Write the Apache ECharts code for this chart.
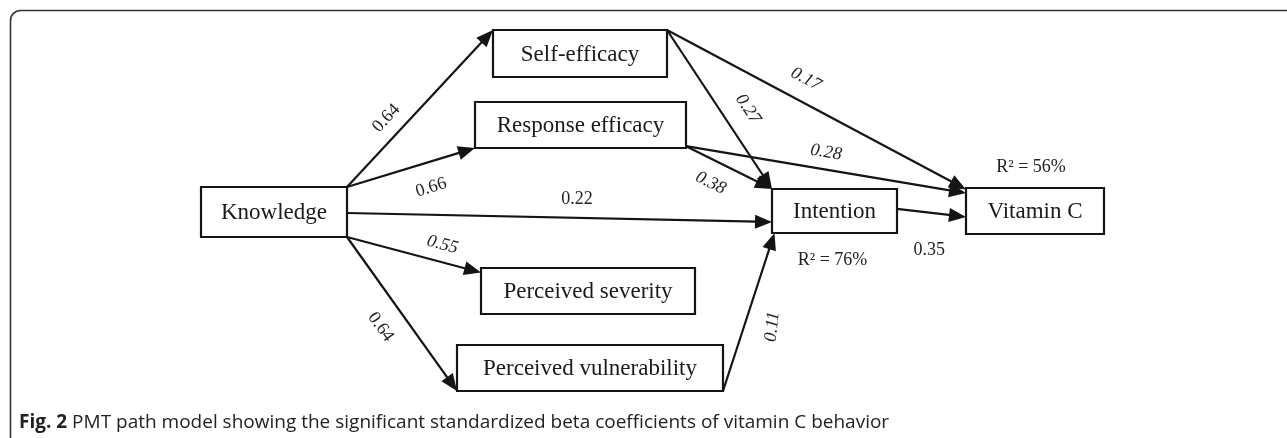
<!DOCTYPE html>
<html>
<head>
    <meta charset="utf-8">
    <script src="https://cdn.jsdelivr.net/npm/echarts@6/dist/echarts.min.js"></script>
</head>
<body style="margin: 0">
    <div id="container" style="width: 1287px; height: 438px"></div>
    <script type="text/javascript">
        // constructs of the PMT path model
        var nodeNames = ['Knowledge', 'Self-efficacy', 'Response efficacy', 'Intention',
            'Vitamin C', 'Perceived severity', 'Perceived vulnerability'];

        // significant paths and their standardized betas
        var pathFrom = ['Knowledge', 'Knowledge', 'Knowledge', 'Knowledge', 'Knowledge',
            'Self-efficacy', 'Self-efficacy', 'Response efficacy', 'Response efficacy',
            'Intention', 'Perceived vulnerability'];
        var pathTo = ['Self-efficacy', 'Response efficacy', 'Intention', 'Perceived severity',
            'Perceived vulnerability', 'Intention', 'Vitamin C', 'Intention', 'Vitamin C',
            'Vitamin C', 'Intention'];
        var pathBeta = [0.64, 0.66, 0.22, 0.55, 0.64, 0.27, 0.17, 0.38, 0.28, 0.35, 0.11];

        // explained variance
        var r2Node = ['Intention', 'Vitamin C'];
        var r2Value = [76, 56];

        var captionBold = 'Fig. 2';
        var captionText = 'PMT path model showing the significant standardized beta coefficients of vitamin C behavior';

        // ---- layout (figure units, 1 unit = 1 px) ----
        var nodeBox = {
            'Knowledge': [201, 187, 347, 237],
            'Self-efficacy': [493, 30, 667, 77],
            'Response efficacy': [475, 102, 686, 148],
            'Intention': [772, 189, 897, 233],
            'Vitamin C': [966, 188, 1104, 234],
            'Perceived severity': [481, 268, 695, 314],
            'Perceived vulnerability': [457, 345, 723, 391]
        };
        // where each path leaves / enters the boxes (fractions of box width/height)
        var pathAnchor = [
            [1, 0, 0, 0], [1, 0, 0, 1], [1, 0.52, 0, 0.75], [1, 1, 0, 0.1], [1, 1, 0, 1],
            [1, 0, 0, 0], [1, 0, 0, 0.03], [1, 0.96, 0, 0], [1, 0.96, 0, 0.11],
            [1, 0.45, 0, 0.63], [1, 1, 0.02, 1]
        ];
        // label: position along path, side offset, angle (true = follow path, number = degrees), italic
        var labelPlace = [
            [0.36, 18, true, false], [0.6, -25, true, false], [0.54, 19, 0, false],
            [0.68, 17, true, true], [0.49, -25, true, false], [0.58, 24, true, true],
            [0.43, 22, true, true], [0.40, -22, true, true], [0.49, 17, true, true],
            [0.53, -37, 0, false], [0.46, -27, -84, true]
        ];
        var r2Offset = [[-2, 27], [-4, -21]];

        var serif = '"Liberation Serif", "Times New Roman", serif';
        var ink = '#141414';

        function anchorPoint(name, fx, fy) {
            var b = nodeBox[name];
            return [b[0] + (b[2] - b[0]) * fx, b[1] + (b[3] - b[1]) * fy];
        }

        var dom = document.getElementById('container');
        var myChart = echarts.init(dom);

        var option = {
            animation: false,
            backgroundColor: '#fff',
            title: {
                left: 14,
                top: 408,
                text: '{b|' + captionBold + '} ' + captionText,
                textStyle: {
                    fontFamily: '"Open Sans", sans-serif',
                    fontSize: 19,
                    fontWeight: 'normal',
                    color: '#222',
                    rich: {
                        b: { fontFamily: '"Open Sans", sans-serif', fontSize: 19, fontWeight: 'bold', color: '#222' }
                    }
                }
            },
            graphic: [{
                type: 'rect',
                shape: { x: 10.5, y: 10.5, width: 1400, height: 600, r: 10 },
                style: { fill: 'none', stroke: '#333', lineWidth: 1.6 },
                silent: true
            }],
            grid: { left: 0, right: 0, top: 0, bottom: 0 },
            xAxis: { type: 'value', min: 0, max: 1287, show: false },
            yAxis: { type: 'value', min: 0, max: 438, inverse: true, show: false },
            series: [
                {
                    type: 'custom',
                    name: 'paths',
                    clip: false,
                    data: pathBeta.map(function (v, i) { return [i, v]; }),
                    renderItem: function (params, api) {
                        var i = params.dataIndex;
                        var a = pathAnchor[i];
                        var s = api.coord(anchorPoint(pathFrom[i], a[0], a[1]));
                        var e = api.coord(anchorPoint(pathTo[i], a[2], a[3]));
                        var dx = e[0] - s[0], dy = e[1] - s[1];
                        var len = Math.sqrt(dx * dx + dy * dy);
                        var ux = dx / len, uy = dy / len;
                        var head = 17, half = 7;
                        var bx = e[0] - ux * head, by = e[1] - uy * head;
                        var lp = labelPlace[i];
                        var nx = uy, ny = -ux;
                        var lx = s[0] + dx * lp[0] + nx * lp[1];
                        var ly = s[1] + dy * lp[0] + ny * lp[1];
                        var ang = lp[2] === true ? Math.atan2(dy, dx) : lp[2] * Math.PI / 180;
                        return {
                            type: 'group',
                            children: [{
                                type: 'line',
                                shape: { x1: s[0], y1: s[1], x2: bx + ux * 2, y2: by + uy * 2 },
                                style: { stroke: ink, lineWidth: 2.2 }
                            }, {
                                type: 'polygon',
                                shape: {
                                    points: [e, [bx + nx * half, by + ny * half], [bx - nx * half, by - ny * half]]
                                },
                                style: { fill: ink }
                            }, {
                                type: 'text',
                                x: lx,
                                y: ly,
                                rotation: -ang,
                                style: {
                                    text: pathBeta[i].toFixed(2),
                                    x: 0,
                                    y: 0,
                                    align: 'center',
                                    verticalAlign: 'middle',
                                    fontFamily: serif,
                                    fontSize: 18,
                                    fontStyle: lp[3] ? 'italic' : 'normal',
                                    fill: '#222'
                                }
                            }]
                        };
                    }
                },
                {
                    type: 'custom',
                    name: 'constructs',
                    clip: false,
                    data: nodeNames.map(function (n, i) { return [i, 0]; }),
                    renderItem: function (params, api) {
                        var name = nodeNames[params.dataIndex];
                        var b = nodeBox[name];
                        var p0 = api.coord([b[0], b[1]]);
                        var p1 = api.coord([b[2], b[3]]);
                        return {
                            type: 'group',
                            children: [{
                                type: 'rect',
                                shape: { x: p0[0], y: p0[1], width: p1[0] - p0[0], height: p1[1] - p0[1] },
                                style: { fill: '#fff', stroke: ink, lineWidth: 2.2 }
                            }, {
                                type: 'text',
                                style: {
                                    text: name,
                                    x: (p0[0] + p1[0]) / 2,
                                    y: (p0[1] + p1[1]) / 2 + 1,
                                    align: 'center',
                                    verticalAlign: 'middle',
                                    fontFamily: serif,
                                    fontSize: 23,
                                    fill: '#1a1a1a'
                                }
                            }]
                        };
                    }
                },
                {
                    type: 'custom',
                    name: 'r2',
                    clip: false,
                    data: r2Value.map(function (v, i) { return [i, v]; }),
                    renderItem: function (params, api) {
                        var i = params.dataIndex;
                        var b = nodeBox[r2Node[i]];
                        var o = r2Offset[i];
                        var cx = (b[0] + b[2]) / 2 + o[0];
                        var cy = o[1] > 0 ? b[3] + o[1] : b[1] + o[1];
                        var p = api.coord([cx, cy]);
                        return {
                            type: 'text',
                            style: {
                                text: 'R\u00B2 = ' + r2Value[i] + '%',
                                x: p[0],
                                y: p[1],
                                align: 'center',
                                verticalAlign: 'middle',
                                fontFamily: serif,
                                fontSize: 18,
                                fill: '#222'
                            }
                        };
                    }
                }
            ]
        };

        if (option && typeof option === 'object') {
            myChart.setOption(option, true);
        }
    </script>
</body>
</html>
